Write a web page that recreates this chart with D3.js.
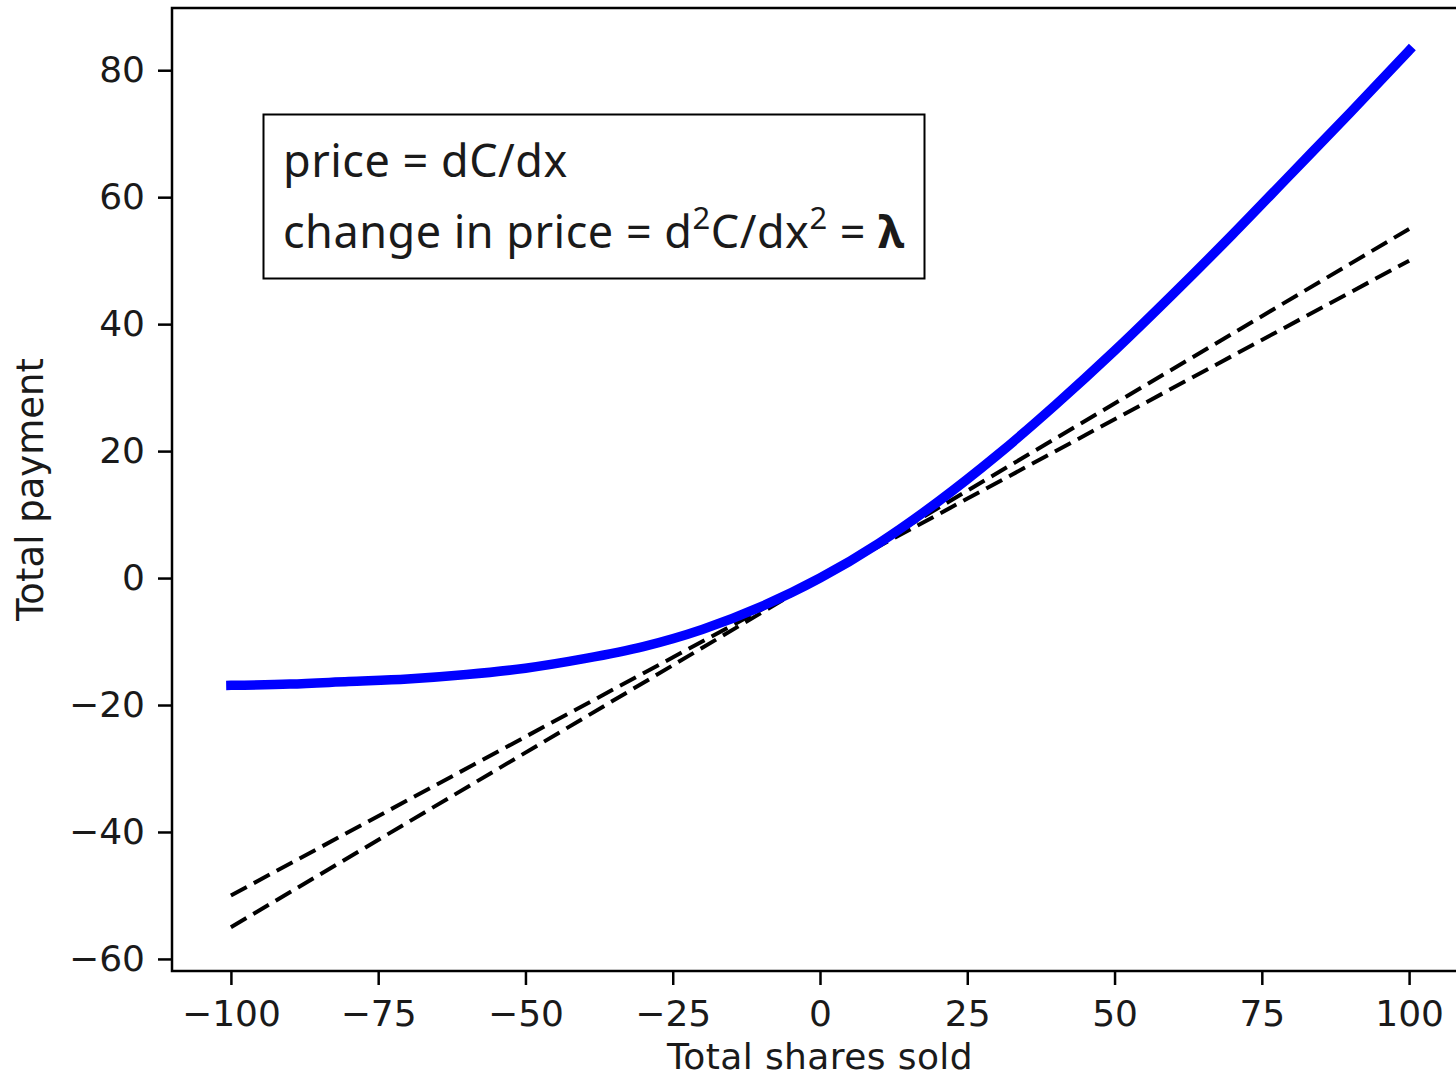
<!DOCTYPE html>
<html lang="en">
<head>
    <meta charset="utf-8">
    <title>Total payment vs shares sold</title>
    <script src="https://d3js.org/d3.v7.min.js"></script>
    <style>
        body { margin: 0; background: #fff; }
        text { font-family: "DejaVu Sans", sans-serif; fill: #1a1a1a; }
    </style>
</head>
<body>
<svg width="1456" height="1079"></svg>
<script>
    // shares sold (x) and the total payment curve
    var shares = [-100, -90, -80, -70, -60, -50, -40, -30, -20, -10, 0,
                  10, 20, 30, 40, 50, 60, 70, 80, 90, 100];
    var payment = [-16.9, -16.7, -16.3, -15.9, -15.2, -14.2, -12.7, -10.8, -8.1, -4.5, 0,
                   5.5, 12.0, 19.3, 27.3, 35.8, 44.8, 54.1, 63.7, 73.3, 83.1];
    // the two dashed straight lines (end points)
    var lineEndsX = [-100, 100];
    var dashedA = [-50, 50];
    var dashedB = [-55, 55];

    var xTicks = [-100, -75, -50, -25, 0, 25, 50, 75, 100];
    var yTicks = [-60, -40, -20, 0, 20, 40, 60, 80];

    var marge = {top: 8, left: 172, right: 1468, bottom: 971};

    var svg = d3.select("svg");

    var x = d3.scaleLinear()
        .domain([-110, 110])
        .range([marge.left, marge.right]);
    var y = d3.scaleLinear()
        .domain([-61.9, 89.8])
        .range([marge.bottom, marge.top]);

    var line = d3.line()
        .x(function(d){ return x(d[0]); })
        .y(function(d){ return y(d[1]); });

    // dashed lines
    [dashedA, dashedB].forEach(function(vals){
        svg.append("path")
            .datum(lineEndsX.map(function(v, i){ return [v, vals[i]]; }))
            .attr("d", line)
            .attr("fill", "none")
            .attr("stroke", "#000")
            .attr("stroke-width", 4)
            .attr("stroke-dasharray", "18,8");
    });

    // blue curve
    svg.append("path")
        .datum(shares.map(function(v, i){ return [v, payment[i]]; }))
        .attr("d", line.curve(d3.curveMonotoneX))
        .attr("fill", "none")
        .attr("stroke", "#0000ff")
        .attr("stroke-width", 9.5)
        .attr("stroke-linecap", "square")
        .attr("stroke-linejoin", "round");

    // axes
    var xAxis = d3.axisBottom(x)
        .tickValues(xTicks)
        .tickSize(14)
        .tickPadding(15);
    var yAxis = d3.axisLeft(y)
        .tickValues(yTicks)
        .tickSize(14)
        .tickPadding(13);

    var gx = svg.append("g")
        .attr("transform", "translate(0," + marge.bottom + ")")
        .call(xAxis);
    var gy = svg.append("g")
        .attr("transform", "translate(" + marge.left + ",0)")
        .call(yAxis);

    [gx, gy].forEach(function(g){
        g.select(".domain").remove();
        g.selectAll(".tick line").attr("stroke", "#000").attr("stroke-width", 2.5);
        g.selectAll(".tick text")
            .attr("fill", "#1a1a1a")
            .style("font-family", "'DejaVu Sans', sans-serif")
            .style("font-size", "36px");
    });

    // frame (right side falls outside the picture)
    svg.append("rect")
        .attr("x", marge.left)
        .attr("y", marge.top)
        .attr("width", marge.right - marge.left)
        .attr("height", marge.bottom - marge.top)
        .attr("fill", "none")
        .attr("stroke", "#000")
        .attr("stroke-width", 2.5);

    // axis labels
    svg.append("text")
        .attr("x", (marge.left + marge.right) / 2)
        .attr("y", 1069)
        .attr("text-anchor", "middle")
        .style("font-size", "36px")
        .style("letter-spacing", "0.4px")
        .text("Total shares sold");

    svg.append("text")
        .attr("transform", "translate(43," + (marge.top + marge.bottom) / 2 + ") rotate(-90)")
        .attr("text-anchor", "middle")
        .style("font-size", "37px")
        .text("Total payment");

    // annotation box
    var box = svg.append("g");
    box.append("rect")
        .attr("x", 263.5)
        .attr("y", 114.5)
        .attr("width", 661)
        .attr("height", 164)
        .attr("fill", "#fff")
        .attr("stroke", "#000")
        .attr("stroke-width", 2);

    var boxFont = "'Noto Sans', 'Open Sans', sans-serif";
    box.append("text")
        .attr("x", 283)
        .attr("y", 177)
        .style("font-family", boxFont)
        .style("font-size", "45px")
        .style("letter-spacing", "0.5px")
        .attr("fill", "#000")
        .text("price = dC/dx");

    var t2 = box.append("text")
        .attr("x", 283)
        .attr("y", 248)
        .style("font-family", boxFont)
        .style("font-size", "45px")
        .style("letter-spacing", "0.5px")
        .attr("fill", "#000");
    t2.append("tspan").text("change in price = d");
    t2.append("tspan").attr("dy", -19).style("font-size", "31px").text("2");
    t2.append("tspan").attr("dy", 19).text("C/dx");
    t2.append("tspan").attr("dy", -19).style("font-size", "31px").text("2");
    t2.append("tspan").attr("dy", 19).text(" = ");
    t2.append("tspan").style("font-weight", "bold").text("λ");
</script>
</body>
</html>
